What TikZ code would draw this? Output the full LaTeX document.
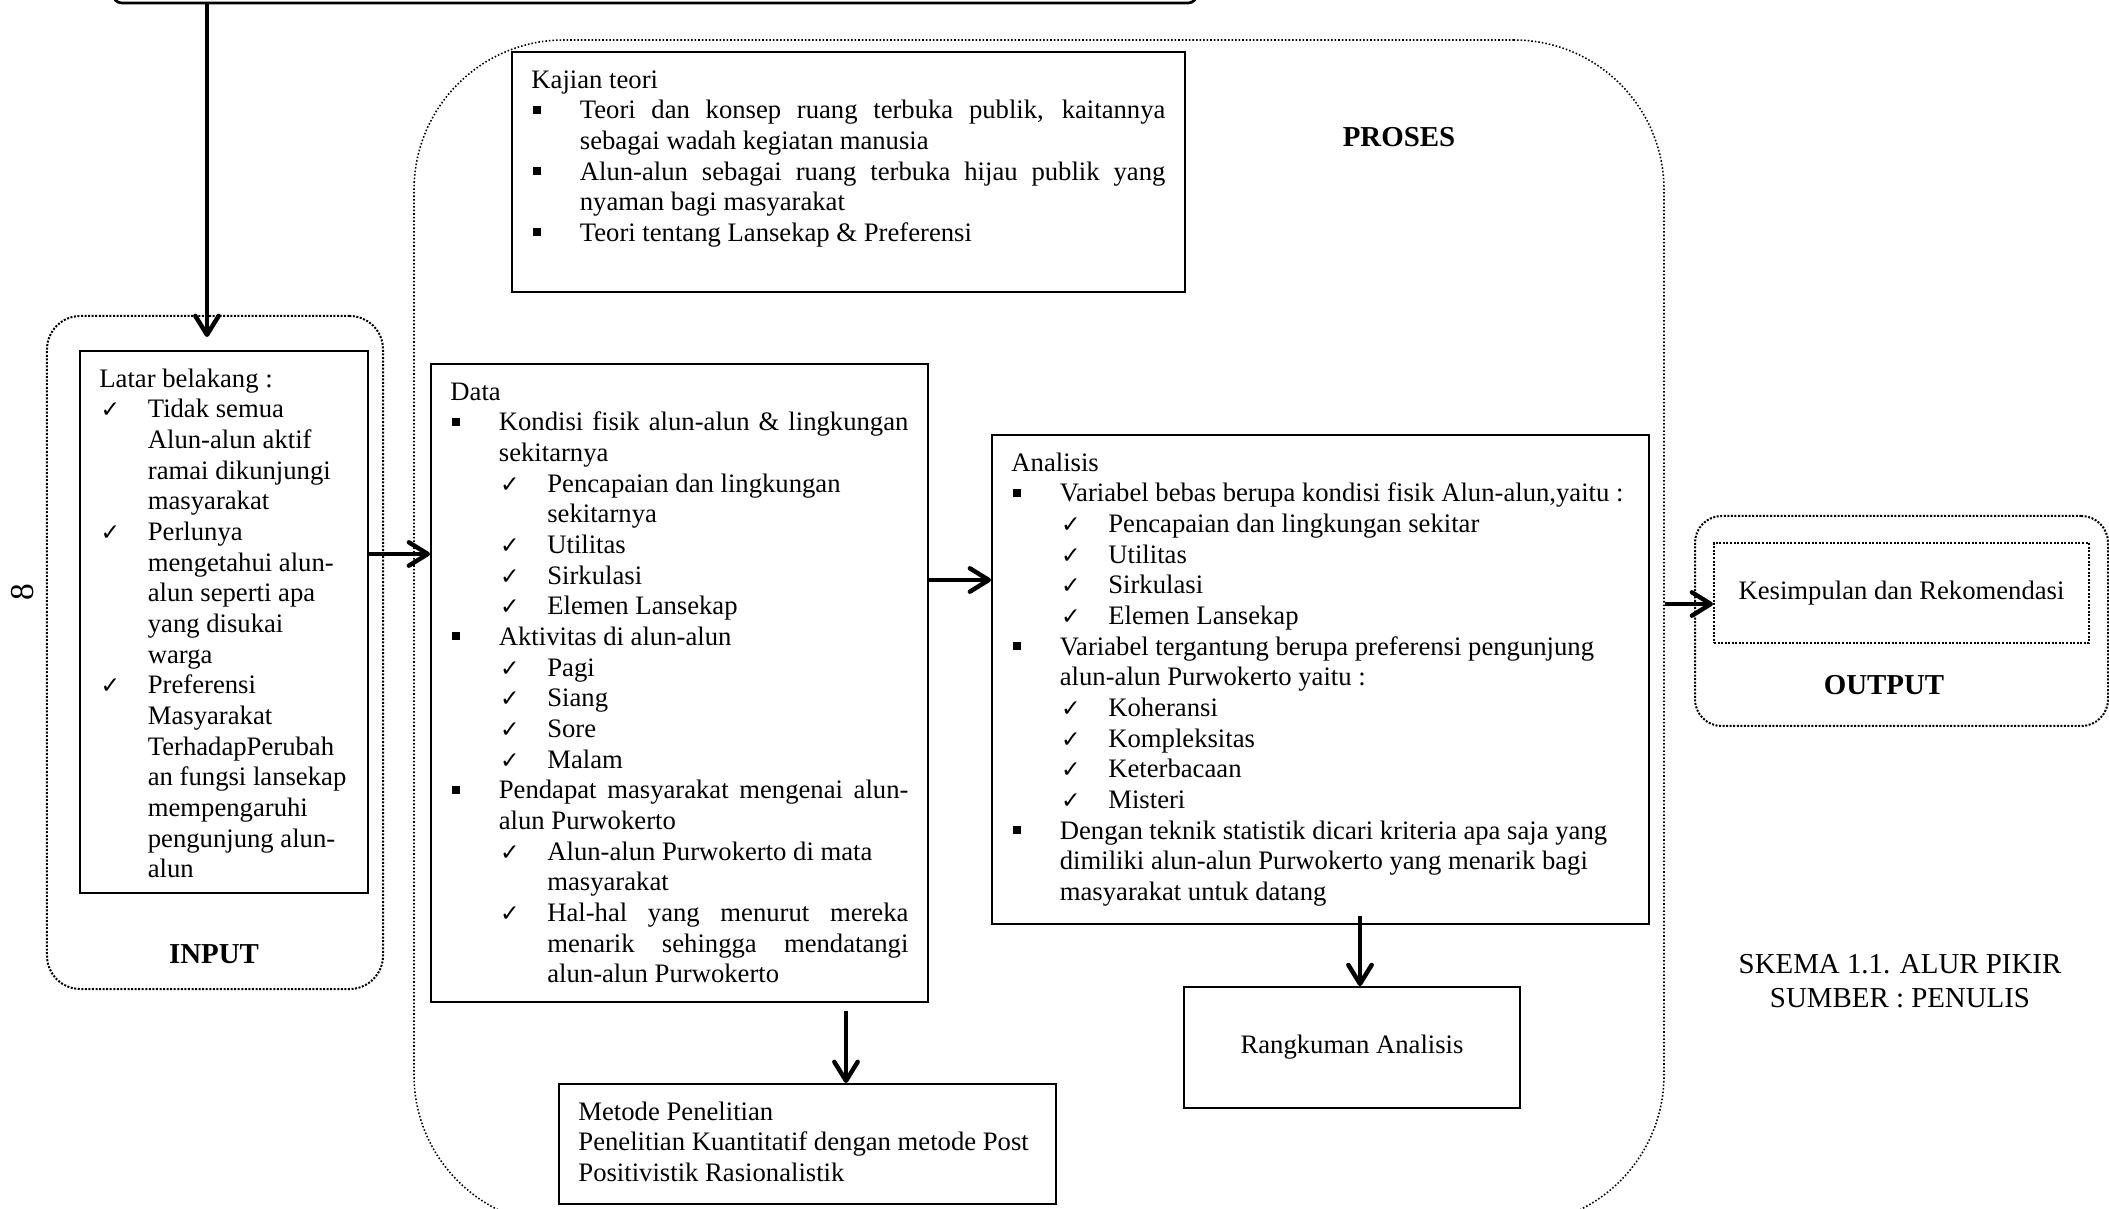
\documentclass[tikz,border=0pt]{standalone}
\usepackage{fontspec}
\setmainfont{Liberation Serif}
\newfontfamily\symfont{DejaVu Sans}
\usetikzlibrary{arrows.meta}

\newcommand{\sqmark}{\rule[2.2pt]{3.6pt}{3.6pt}}
\newcommand{\ckmark}{{\symfont\fontsize{10.5}{10.5}\selectfont ✓}}
\newcommand{\itemsq}{\par\hangindent=21.8pt\noindent\makebox[21.8pt][l]{\hspace{0.5pt}\sqmark}}
\newcommand{\itemck}{\par\hangindent=21.8pt\noindent\makebox[21.8pt][l]{\hspace{0.5pt}\ckmark}}
\newcommand{\itemckk}{\par\hangindent=43.6pt\noindent\hspace*{21.8pt}\makebox[21.8pt][l]{\hspace{0.5pt}\ckmark}}
\newcommand{\boxtext}[3]{\parbox[t][#2][t]{#1}{\hyphenpenalty=10000\exhyphenpenalty=10000\tolerance=9999\vspace*{6.6pt}\strut#3}}

\tikzset{
  box/.style={draw, line width=0.8pt, anchor=north west, inner xsep=8.8pt, inner ysep=0pt},
  cbox/.style={draw, line width=0.8pt, align=center},
  frame/.style={draw, line width=0.9pt, dash pattern=on 0.9pt off 0.7pt},
  title/.style={font=\bfseries\fontsize{13}{15}\selectfont},
  arr/.style={line width=2pt, -{Straight Barb[length=8.5pt,width=10.5pt,round]}}
}

\begin{document}
\begin{tikzpicture}[x=0.45pt,y=-0.45pt,font=\fontsize{12}{13.8}\selectfont]
\useasboundingbox (0,0) rectangle (2109,1209);
\clip (0,0) rectangle (2109,1209);

\node [frame, rounded corners=15pt, minimum width=151.2pt, minimum height=302.85pt] (input) at (215,652.5) {};
\node [frame, line width=0.7pt, dash pattern=on 0.7pt off 0.9pt, rounded corners=67.5pt, minimum width=562.5pt, minimum height=533.25pt] (proses) at (1039,632.5) {};
\node [frame, rounded corners=12pt, minimum width=185.85pt, minimum height=94.5pt] (output) at (1901.5,621) {};
\node [draw, line width=1.2pt, rounded corners=4pt, minimum width=487.8pt, minimum height=45pt] (top) at (655,-47) {};

\node [rotate=90, font=\fontsize{15}{15}\selectfont] (hal) at (23,592) {8};

\node [box] (latar) at (79,350) {\boxtext{112pt}{243.9pt}{Latar belakang :
  \itemck Tidak semua\\ Alun-alun aktif\\ ramai dikunjungi\\ masyarakat
  \itemck Perlunya\\ mengetahui alun-\\alun seperti apa\\ yang disukai\\ warga
  \itemck Preferensi\\ Masyarakat\\ TerhadapPerubah\\an fungsi lansekap\\ mempengaruhi\\ pengunjung alun-\\alun}};
\node [title] (inlabel) at (214,954) {INPUT};

\node [box] (kajian) at (511,51) {\boxtext{285.3pt}{108pt}{Kajian teori
  \itemsq Teori dan konsep ruang terbuka publik, kaitannya\linebreak sebagai wadah kegiatan manusia
  \itemsq Alun-alun sebagai ruang terbuka hijau publik yang\linebreak nyaman bagi masyarakat
  \itemsq Teori tentang Lansekap \& Preferensi}};
\node [title] (proslabel) at (1399,137) {PROSES};

\node [box] (data) at (430,363) {\boxtext{206.1pt}{287.1pt}{Data
  \itemsq Kondisi fisik alun-alun \& lingkungan\linebreak sekitarnya
  \itemckk Pencapaian dan lingkungan\\ sekitarnya
  \itemckk Utilitas
  \itemckk Sirkulasi
  \itemckk Elemen Lansekap
  \itemsq Aktivitas di alun-alun
  \itemckk Pagi
  \itemckk Siang
  \itemckk Sore
  \itemckk Malam
  \itemsq Pendapat masyarakat mengenai alun-\linebreak alun Purwokerto
  \itemckk Alun-alun Purwokerto di mata\\ masyarakat
  \itemckk Hal-hal yang menurut mereka\linebreak menarik sehingga mendatangi\linebreak alun-alun Purwokerto}};

\node [box] (analisis) at (991,434) {\boxtext{278.1pt}{220pt}{Analisis
  \itemsq Variabel bebas berupa kondisi fisik Alun-alun,yaitu :
  \itemckk Pencapaian dan lingkungan sekitar
  \itemckk Utilitas
  \itemckk Sirkulasi
  \itemckk Elemen Lansekap
  \itemsq Variabel tergantung berupa preferensi pengunjung\\ alun-alun Purwokerto yaitu :
  \itemckk Koheransi
  \itemckk Kompleksitas
  \itemckk Keterbacaan
  \itemckk Misteri
  \itemsq Dengan teknik statistik dicari kriteria apa saja yang\\ dimiliki alun-alun Purwokerto yang menarik bagi\\ masyarakat untuk datang}};

\node [box] (metode) at (558,1083) {\boxtext{206.1pt}{54pt}{Metode Penelitian\\ Penelitian Kuantitatif dengan metode Post\\ Positivistik Rasionalistik}};
\node [cbox, minimum width=151.2pt, minimum height=54.5pt] (rangkuman) at (1352,1047.5) {Rangkuman Analisis};

\node [frame, minimum width=168.75pt, minimum height=45pt] (kesimpulan) at (1901.5,593) {Kesimpulan dan Rekomendasi};
\node [title] (outlabel) at (1884,685) {OUTPUT};
\node [align=center, font=\fontsize{13}{15}\selectfont] (skema) at (1900,981) {SKEMA 1.1. ALUR PIKIR\\SUMBER : PENULIS};

\coordinate (c1) at (207,337);
\coordinate (c2) at (0,554);
\coordinate (c3) at (0,580);
\coordinate (c4) at (846,1011);
\coordinate (c5) at (1360,916);
\coordinate (c6) at (0,604);
\draw [arr] (top.south -| c1) -- (c1);
\draw [arr] (latar.east |- c2) -- (data.west |- c2);
\draw [arr] (data.east |- c3) -- (analisis.west |- c3);
\draw [arr] (c4) -- (c4 |- metode.north);
\draw [arr] (c5) -- (c5 |- rangkuman.north);
\draw [arr] (proses.east |- c6) -- (kesimpulan.west |- c6);
\end{tikzpicture}
\end{document}
